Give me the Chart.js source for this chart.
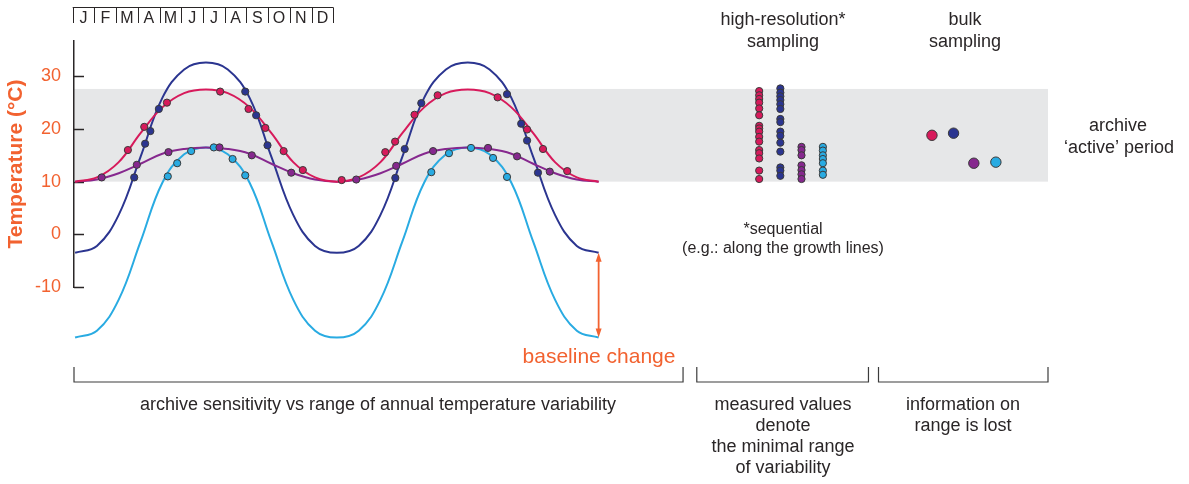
<!DOCTYPE html>
<html>
<head>
<meta charset="utf-8">
<title>Archive sensitivity</title>
<script src="https://cdn.jsdelivr.net/npm/chart.js@4.4.0/dist/chart.umd.min.js"></script>
<style>
  html, body { margin: 0; padding: 0; background: #ffffff; }
  canvas { display: block; }
</style>
</head>
<body>
<canvas id="grafico" width="1189" height="484"></canvas>
<script>
// Datos (meses desde enero, temperatura en °C)
const MONTHS = [0, 1, 2, 3, 4, 5, 6, 7, 8, 9, 10, 11, 12, 13, 14, 15, 16, 17, 18, 19, 20, 21, 22, 23, 24];
const MONTH_LABELS = ['J', 'F', 'M', 'A', 'M', 'J', 'J', 'A', 'S', 'O', 'N', 'D'];
const Y_TICKS = [-10, 0, 10, 20, 30];
const ACTIVE_BAND = [10, 27.6];

const PINK_CURVE = [10.0, 10.8, 13.7, 19.2, 24.1, 26.8, 27.5, 26.8, 24.1, 19.2, 13.7, 10.8, 10.0,
  10.8, 13.7, 19.2, 24.1, 26.8, 27.5, 26.8, 24.1, 19.2, 13.7, 10.8, 10.0];
const NAVY_CURVE = [-3.5, -2.2, 3.7, 14.7, 25.9, 31.3, 32.6, 31.3, 25.9, 14.7, 3.7, -2.2, -3.5,
  -2.2, 3.7, 14.7, 25.9, 31.3, 32.6, 31.3, 25.9, 14.7, 3.7, -2.2, -3.5];
const PURPLE_CURVE = [10.0, 10.4, 11.6, 13.4, 15.3, 16.2, 16.5, 16.2, 15.3, 13.4, 11.6, 10.4, 10.0,
  10.4, 11.6, 13.4, 15.3, 16.2, 16.5, 16.2, 15.3, 13.4, 11.6, 10.4, 10.0];
const CYAN_CURVE = [-19.6, -18.3, -12.4, -1.4, 9.8, 15.2, 16.5, 15.2, 9.8, -1.4, -12.4, -18.3, -19.6,
  -18.3, -12.4, -1.4, 9.8, 15.2, 16.5, 15.2, 9.8, -1.4, -12.4, -18.3, -19.6];

// Muestras sobre las curvas
const PINK_DOT_T = [2.42, 3.17, 4.21, 6.65, 7.95, 8.72, 9.56, 10.44, 12.22, 14.22, 14.67, 15.56, 16.62, 19.37, 20.72, 21.45, 22.56];
const PINK_DOT_V = [16.0, 20.4, 25.0, 27.1, 23.8, 20.2, 15.8, 12.2, 10.3, 15.6, 17.6, 22.7, 26.4, 26.0, 19.9, 16.2, 12.0];
const NAVY_DOT_T = [2.71, 3.21, 3.45, 3.84, 7.8, 8.3, 8.82, 14.68, 15.11, 15.87, 19.8, 20.45, 20.72, 21.22];
const NAVY_DOT_V = [10.8, 17.2, 19.6, 23.8, 27.1, 22.6, 16.9, 10.7, 16.2, 24.9, 26.6, 21.0, 17.8, 11.7];
const PURPLE_DOT_T = [1.22, 2.83, 4.28, 6.62, 8.1, 9.91, 12.89, 14.72, 16.41, 18.93, 20.26, 21.76];
const PURPLE_DOT_V = [10.8, 13.2, 15.6, 16.5, 15.0, 11.7, 10.4, 13.0, 15.8, 16.4, 14.8, 11.9];
const CYAN_DOT_T = [4.25, 4.68, 5.32, 6.36, 7.22, 7.8, 16.33, 17.14, 18.15, 19.16, 19.8];
const CYAN_DOT_V = [11.0, 13.5, 15.8, 16.5, 14.3, 11.2, 11.8, 15.4, 16.4, 14.5, 10.9];

// Muestreo de alta resolución (columnas) y muestreo en bloque
const COLUMN_T = [31.36, 32.33, 33.3, 34.28];
const PINK_COLUMN = [27.2, 26.4, 25.7, 25.0, 23.9, 22.6, 20.6, 20.1, 19.5, 18.5, 17.6, 16.0, 15.4, 14.4, 12.1, 10.5];
const NAVY_COLUMN = [27.7, 26.9, 26.2, 25.5, 24.7, 23.8, 21.9, 21.3, 19.5, 18.7, 17.4, 15.7, 12.7, 12.1, 11.1];
const PURPLE_COLUMN = [16.6, 16.0, 15.0, 13.1, 12.2, 11.4, 10.5];
const CYAN_COLUMN = [16.6, 15.9, 15.0, 14.3, 13.5, 12.1, 11.3];
const BULK_T = [39.28, 40.27, 41.2, 42.21];
const BULK_V = [18.8, 19.2, 13.5, 13.7];

// Colores
const PINK = '#d71a5b';
const NAVY = '#2b3590';
const PURPLE = '#86288e';
const CYAN = '#29abe2';
const ORANGE = '#f26230';
const INK = '#2a2627';
const FONT = '"Liberation Sans", Arial, Helvetica, sans-serif';

const puntos = (ts, vs) => ts.map((t, i) => ({ x: t, y: vs[i] }));
const columna = (t, vs) => vs.map(v => ({ x: t, y: v }));

const curva = (data, color) => ({
  type: 'line',
  data: puntos(MONTHS, data),
  borderColor: color,
  borderWidth: 2,
  pointRadius: 0,
  tension: 0.4,
  fill: false,
  clip: false,
  order: 2,
});

const muestras = (data, color, radius) => ({
  type: 'line',
  data: data,
  showLine: false,
  pointRadius: radius,
  pointHoverRadius: radius,
  pointBackgroundColor: color,
  pointBorderColor: '#3a3a3a',
  pointBorderWidth: 1,
  clip: false,
  order: 1,
});

// Plugin con la banda gris, el calendario, las llaves y los textos
const decoracion = {
  id: 'decoracion',
  beforeDraw(chart) {
    const { ctx, chartArea, scales: { y } } = chart;
    const top = y.getPixelForValue(ACTIVE_BAND[1]);
    const bottom = y.getPixelForValue(ACTIVE_BAND[0]);
    ctx.save();
    ctx.fillStyle = '#e6e7e8';
    ctx.fillRect(chartArea.left, top, chartArea.right - chartArea.left, bottom - top);
    ctx.restore();
  },
  beforeDatasetsDraw(chart) {
    const { ctx, chartArea, scales: { y } } = chart;
    ctx.save();
    ctx.strokeStyle = INK;
    ctx.lineWidth = 1.5;
    Y_TICKS.forEach(v => {
      const py = Math.round(y.getPixelForValue(v)) + 0.5;
      ctx.beginPath();
      ctx.moveTo(chartArea.left, py);
      ctx.lineTo(chartArea.left + 10, py);
      ctx.stroke();
    });
    ctx.restore();
  },
  afterDraw(chart) {
    const { ctx, chartArea, scales: { x, y } } = chart;
    ctx.save();

    // calendario de meses
    const m0 = x.getPixelForValue(-0.11);
    const m1 = x.getPixelForValue(11.84);
    const w = (m1 - m0) / 12;
    ctx.strokeStyle = INK;
    ctx.lineWidth = 1;
    ctx.beginPath();
    ctx.moveTo(m0, 7.5);
    ctx.lineTo(m1, 7.5);
    for (let i = 0; i <= 12; i++) {
      const px = Math.round(m0 + i * w) + 0.5;
      ctx.moveTo(px, 7.5);
      ctx.lineTo(px, 23);
    }
    ctx.stroke();
    ctx.fillStyle = INK;
    ctx.font = `16px ${FONT}`;
    ctx.textAlign = 'center';
    ctx.textBaseline = 'alphabetic';
    MONTH_LABELS.forEach((m, i) => ctx.fillText(m, m0 + (i + 0.5) * w, 22.5));

    // llaves inferiores
    const llaves = [[chartArea.left, x.getPixelForValue(27.87)],
      [x.getPixelForValue(28.5), x.getPixelForValue(36.37)],
      [x.getPixelForValue(36.83), chartArea.right]];
    ctx.lineWidth = 1.2;
    ctx.strokeStyle = '#3c3c3c';
    llaves.forEach(([a, b]) => {
      ctx.beginPath();
      ctx.moveTo(a, 367);
      ctx.lineTo(a, 382);
      ctx.lineTo(b, 382);
      ctx.lineTo(b, 367);
      ctx.stroke();
    });

    // flecha del cambio de línea base
    const ax = x.getPixelForValue(MONTHS[MONTHS.length - 1]);
    const ay1 = y.getPixelForValue(NAVY_CURVE[NAVY_CURVE.length - 1]);
    const ay2 = y.getPixelForValue(CYAN_CURVE[CYAN_CURVE.length - 1]);
    ctx.strokeStyle = ORANGE;
    ctx.fillStyle = ORANGE;
    ctx.lineWidth = 1.8;
    ctx.beginPath();
    ctx.moveTo(ax, ay1 + 6);
    ctx.lineTo(ax, ay2 - 6);
    ctx.stroke();
    ctx.beginPath();
    ctx.moveTo(ax, ay1);
    ctx.lineTo(ax - 3, ay1 + 9);
    ctx.lineTo(ax + 3, ay1 + 9);
    ctx.closePath();
    ctx.fill();
    ctx.beginPath();
    ctx.moveTo(ax, ay2);
    ctx.lineTo(ax - 3, ay2 - 9);
    ctx.lineTo(ax + 3, ay2 - 9);
    ctx.closePath();
    ctx.fill();

    // textos
    const textos = [
      ['high-resolution*', 783, 20, 18, INK],
      ['sampling', 783, 42, 18, INK],
      ['bulk', 965, 20, 18, INK],
      ['sampling', 965, 42, 18, INK],
      ['archive', 1118, 126, 18, INK],
      ['\u2018active\u2019 period', 1119, 148, 18, INK],
      ['*sequential', 783, 230, 16, INK],
      ['(e.g.: along the growth lines)', 783, 249, 16, INK],
      ['baseline change', 599, 357, 21, ORANGE],
      ['archive sensitivity vs range of annual temperature variability', 378, 405, 18, INK],
      ['measured values', 783, 405, 18, INK],
      ['denote', 783, 426, 18, INK],
      ['the minimal range', 783, 447, 18, INK],
      ['of variability', 783, 468, 18, INK],
      ['information on', 963, 405, 18, INK],
      ['range is lost', 963, 426, 18, INK],
    ];
    ctx.textAlign = 'center';
    ctx.textBaseline = 'middle';
    textos.forEach(([t, px, py, size, color]) => {
      ctx.font = `${size}px ${FONT}`;
      ctx.fillStyle = color;
      ctx.fillText(t, px, py);
    });
    ctx.restore();
  }
};

const config = {
  type: 'line',
  data: {
    datasets: [
      muestras(puntos(PINK_DOT_T, PINK_DOT_V), PINK, 3.6),
      muestras(puntos(NAVY_DOT_T, NAVY_DOT_V), NAVY, 3.6),
      muestras(puntos(PURPLE_DOT_T, PURPLE_DOT_V), PURPLE, 3.6),
      muestras(puntos(CYAN_DOT_T, CYAN_DOT_V), CYAN, 3.6),
      muestras(columna(COLUMN_T[0], PINK_COLUMN), PINK, 3.6),
      muestras(columna(COLUMN_T[1], NAVY_COLUMN), NAVY, 3.6),
      muestras(columna(COLUMN_T[2], PURPLE_COLUMN), PURPLE, 3.6),
      muestras(columna(COLUMN_T[3], CYAN_COLUMN), CYAN, 3.6),
      muestras(puntos(BULK_T, BULK_V), [PINK, NAVY, PURPLE, CYAN], 5.2),
      curva(PINK_CURVE, PINK),
      curva(PURPLE_CURVE, PURPLE),
      curva(NAVY_CURVE, NAVY),
      curva(CYAN_CURVE, CYAN),
    ]
  },
  options: {
    responsive: false,
    devicePixelRatio: 1,
    animation: false,
    events: [],
    layout: { padding: { top: 41, right: 141, bottom: 197, left: 0 } },
    plugins: {
      legend: { display: false },
      tooltip: { enabled: false },
    },
    scales: {
      x: {
        type: 'linear',
        display: false,
        min: -0.05,
        max: 44.6,
      },
      y: {
        type: 'linear',
        min: -10,
        max: 36.7,
        afterBuildTicks: s => { s.ticks = Y_TICKS.map(v => ({ value: v })); },
        afterFit: s => { s.width = 74; },
        grid: { display: false, drawTicks: false },
        border: { display: true, color: INK, width: 1.5 },
        ticks: {
          color: ORANGE,
          padding: 13,
          font: { family: FONT, size: 18 },
          callback: v => String(v),
        },
        title: {
          display: true,
          text: 'Temperature (°C)',
          color: ORANGE,
          padding: { top: 4, bottom: 4 },
          font: { family: FONT, size: 21, weight: 'bold' },
        },
      },
    },
  },
  plugins: [decoracion],
};

new Chart(document.getElementById('grafico').getContext('2d'), config);
</script>
</body>
</html>
